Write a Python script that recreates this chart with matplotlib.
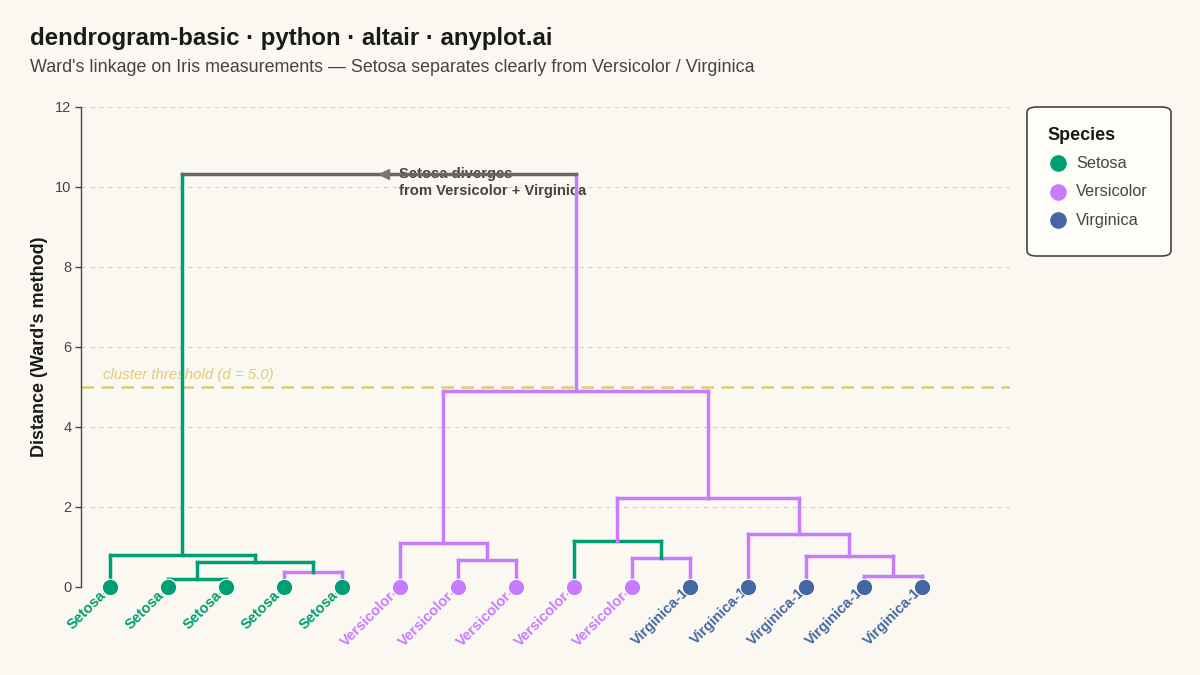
import matplotlib
matplotlib.use("Agg")
import matplotlib.pyplot as plt
from matplotlib.lines import Line2D
from matplotlib.patches import FancyBboxPatch

plt.rcParams['font.family'] = ['Liberation Sans', 'DejaVu Sans']

# ---------------- data ----------------
leaf_labels = ["Setosa-0", "Setosa-1", "Setosa-2", "Setosa-3", "Setosa-4",
               "Versicolor-5", "Versicolor-6", "Versicolor-7", "Versicolor-8", "Versicolor-9",
               "Virginica-10", "Virginica-11", "Virginica-12", "Virginica-13", "Virginica-14"]
leaf_species = ["Setosa", "Setosa", "Setosa", "Setosa", "Setosa",
                "Versicolor", "Versicolor", "Versicolor", "Versicolor", "Versicolor",
                "Virginica", "Virginica", "Virginica", "Virginica", "Virginica"]

# linkage (scipy style: ids < 15 are leaves, 15+k is the k-th merge)
merge_left = [1, 13, 3, 15, 6, 9, 12, 0, 5, 8, 11, 24, 23, 22]
merge_right = [2, 14, 4, 17, 7, 10, 16, 18, 19, 20, 21, 25, 26, 27]
merge_height = [0.20, 0.28, 0.37, 0.625, 0.67, 0.72, 0.77, 0.80, 1.10, 1.14, 1.32, 2.22, 4.90, 10.33]
merge_group = ["Setosa", "Versicolor", "Versicolor", "Setosa", "Versicolor", "Versicolor",
               "Versicolor", "Setosa", "Versicolor", "Setosa", "Versicolor", "Versicolor",
               "Versicolor", "Mixed"]

species_names = ["Setosa", "Versicolor", "Virginica"]
threshold = 5.0
y_ticks = [0, 2, 4, 6, 8, 10, 12]

title = "dendrogram-basic · python · altair · anyplot.ai"
subtitle = "Ward's linkage on Iris measurements — Setosa separates clearly from Versicolor / Virginica"
annotation_text = "Setosa diverges\nfrom Versicolor + Virginica"

# ---------------- style ----------------
BG = "#FAF8F1"
palette = {"Setosa": "#009E73", "Versicolor": "#C77CFF", "Virginica": "#4467A3", "Mixed": "#666666"}
INK = "#444444"
DARK = "#1a1a1a"
THRESH = "#DECB76"
LW = 2.5
W, H = 1200, 675

fig = plt.figure(figsize=(12, 6.75), dpi=100, facecolor=BG)
ax = fig.add_axes([81 / W, 88 / H, (1010 - 81) / W, (587 - 107) / H])
ax.set_facecolor(BG)

n = len(leaf_labels)
xpos = [5 + 10 * i for i in range(n)]
hpos = [0.0] * n
node_group = list(leaf_species)
for l, r, h, g in zip(merge_left, merge_right, merge_height, merge_group):
    xpos.append((xpos[l] + xpos[r]) / 2)
    hpos.append(h)
    node_group.append(g)

for l, r, h, g in zip(merge_left, merge_right, merge_height, merge_group):
    if g == "Mixed":
        cl, ch, cr = palette[node_group[l]], palette[g], palette[node_group[r]]
    else:
        cl = ch = cr = palette[g]
    kw = dict(lw=LW, solid_capstyle="projecting", zorder=3)
    ax.plot([xpos[l], xpos[l]], [hpos[l], h], color=cl, **kw)
    ax.plot([xpos[r], xpos[r]], [hpos[r], h], color=cr, **kw)
    ax.plot([xpos[l], xpos[r]], [h, h], color=ch, **kw)

# leaves
for i in range(n):
    c = palette[leaf_species[i]]
    ax.annotate(leaf_labels[i], (xpos[i], 0), xytext=(2, 2), textcoords="offset points",
                rotation=45, rotation_mode="anchor", ha="right", va="center",
                fontsize=10.5, fontweight="bold", color=c, zorder=4, annotation_clip=False)
    ax.scatter([xpos[i]], [0], s=140, color=c, edgecolors="white", linewidths=0.8,
               zorder=5, clip_on=False)

# threshold
ax.axhline(threshold, color=THRESH, lw=1.8, linestyle=(0, (5, 3)), zorder=2)
ax.text(3.8, threshold + 0.12, f"cluster threshold (d = {threshold:.1f})", fontsize=10.8,
        style="italic", color=THRESH, ha="left", va="bottom", zorder=2)

# annotation on root link
root_h = merge_height[-1]
ax.plot([52.2], [root_h], marker="<", markersize=7, color="#777777", zorder=4)
ax.text(54.8, root_h + 0.18, annotation_text, fontsize=10.6, fontweight="bold", color=INK,
        ha="left", va="top", linespacing=1.3, zorder=2)

# axes styling
ax.set_xlim(0, 160.2)
ax.set_ylim(0, 12)
ax.set_yticks(y_ticks)
ax.set_xticks([])
for s in ["top", "right", "bottom"]:
    ax.spines[s].set_visible(False)
ax.spines["left"].set_color(INK)
ax.spines["left"].set_linewidth(1.0)
ax.tick_params(axis="y", colors=INK, labelsize=10.5, length=4, width=1, pad=3)
ax.yaxis.grid(True, color="#D4D2CC", lw=0.8, linestyle=(0, (4, 4)))
ax.set_axisbelow(True)

fig.text(40 / W, 1 - 347 / H, "Distance (Ward's method)", rotation=90, fontsize=13,
         fontweight="bold", color=DARK, ha="center", va="center")

fig.text(30 / W, 1 - 45 / H, title, fontsize=17.3, fontweight="bold", color=DARK,
         ha="left", va="baseline")
fig.text(30 / W, 1 - 72 / H, subtitle, fontsize=12.9, color=INK, ha="left", va="baseline")

# legend (drawn as a box with markers and real text)
box = FancyBboxPatch((1027 / W, 1 - 256 / H), (1171 - 1027) / W, (256 - 107) / H,
                     boxstyle="round,pad=0,rounding_size=0.008", transform=fig.transFigure,
                     facecolor="#FFFDF7", edgecolor=INK, linewidth=1.2, zorder=1)
fig.patches.append(box)
fig.text(1047 / W, 1 - 135 / H, "Species", fontsize=13, fontweight="bold", color=DARK,
         ha="left", va="center")
for k, s in enumerate(species_names):
    yc = 1 - (163 + 28.5 * k) / H
    fig.add_artist(Line2D([1058 / W], [yc], marker="o", linestyle="none", markersize=12.5,
                          markerfacecolor=palette[s], markeredgecolor="white",
                          markeredgewidth=0.5, transform=fig.transFigure))
    fig.text(1076 / W, yc, s, fontsize=11.7, color=INK, ha="left", va="center")

fig.savefig("out.png", dpi=100, facecolor=BG)
